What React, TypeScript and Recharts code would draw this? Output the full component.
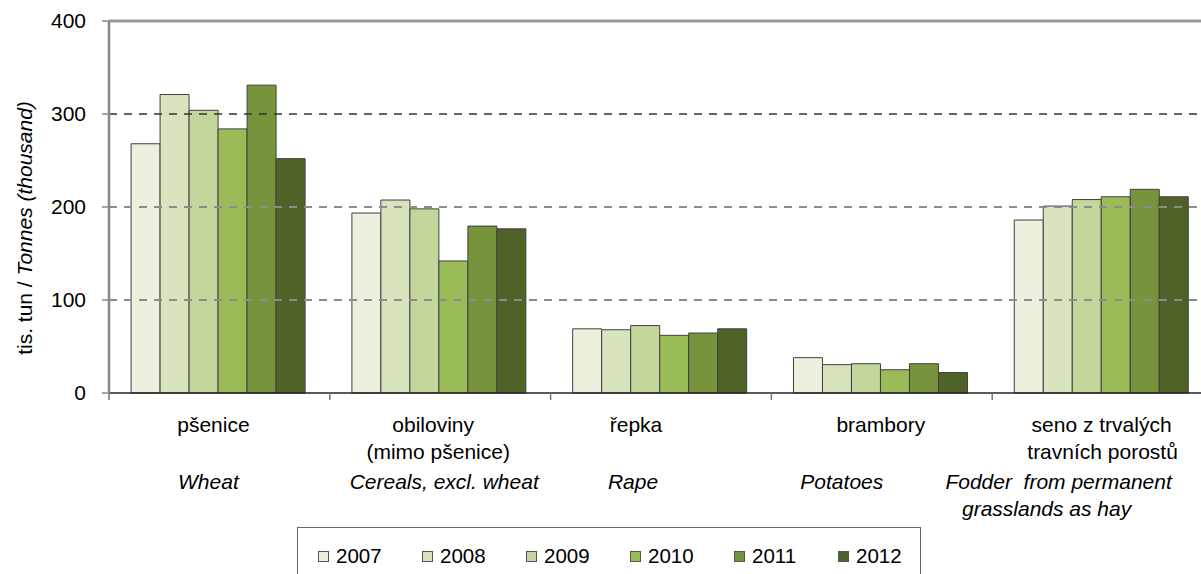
import React from 'react';
import { BarChart, Bar, XAxis, YAxis, ReferenceLine, Legend } from 'recharts';

// ---- data ----
const categories = ['wheat', 'cereals', 'rape', 'potatoes', 'fodder'];
const czLabels = [
  ['pšenice'],
  ['obiloviny', '(mimo pšenice)'],
  ['řepka'],
  ['brambory'],
  ['seno z trvalých', 'travních porostů'],
];
const enLabels = [
  ['Wheat'],
  ['Cereals, excl. wheat'],
  ['Rape'],
  ['Potatoes'],
  ['Fodder  from permanent', 'grasslands as hay'],
];
const years = ['2007', '2008', '2009', '2010', '2011', '2012'];
const v2007 = [268, 193.5, 69, 38, 186];
const v2008 = [321, 207.5, 68, 30.5, 201];
const v2009 = [304, 198, 72.5, 31.5, 208];
const v2010 = [284, 142, 62, 25, 211];
const v2011 = [331, 179.5, 64.5, 31.5, 219];
const v2012 = [252, 176.5, 69, 22, 211];
const seriesValues = [v2007, v2008, v2009, v2010, v2011, v2012];
const yTicks = [0, 100, 200, 300, 400];

// ---- style ----
const colors = ['#EBF1DE', '#D7E4BD', '#C3D69B', '#9BBB59', '#77933C', '#4F6228'];
const FONT = '"Liberation Sans", Arial, sans-serif';
const CHART_W = 1216;
const CHART_H = 574;
const Y_AXIS_W = 109;
const MARGIN = { top: 21, right: 3, bottom: 0, left: 0 };
const PLOT_W = CHART_W - Y_AXIS_W - MARGIN.left - MARGIN.right;
const BAND = PLOT_W / categories.length;
const czDx = [[-6], [-7, -2], [-25], [-1], [-1, 0]];
const enDx = [[-11], [4], [-28], [-40], [-44, -56]];
const czBaselines = [432, 459];
const enBaselines = [489, 516];

const data = categories.map((c, i) => {
  const row: Record<string, any> = { name: c };
  years.forEach((y, j) => {
    row['y' + y] = seriesValues[j][i];
  });
  return row;
});

function CatTick(props: any) {
  const { x, y, index } = props;
  const i = index;
  return (
    <g>
      <line x1={x - BAND / 2} x2={x - BAND / 2} y1={y} y2={y + 7} stroke="#777" strokeWidth={1.5} />
      {i === categories.length - 1 && (
        <line x1={x + BAND / 2} x2={x + BAND / 2} y1={y} y2={y + 7} stroke="#777" strokeWidth={1.5} />
      )}
      {czLabels[i].map((t, k) => (
        <text
          key={'cz' + k}
          x={x + czDx[i][k]}
          y={czBaselines[k]}
          textAnchor="middle"
          fontFamily={FONT}
          fontSize={21}
          fill="#000"
          style={{ whiteSpace: 'pre' }}
        >
          {t}
        </text>
      ))}
      {enLabels[i].map((t, k) => (
        <text
          key={'en' + k}
          x={x + enDx[i][k]}
          y={enBaselines[k]}
          textAnchor="middle"
          fontFamily={FONT}
          fontSize={21}
          fontStyle="italic"
          fill="#000"
          style={{ whiteSpace: 'pre' }}
        >
          {t}
        </text>
      ))}
    </g>
  );
}

function YLabel() {
  const cx = 24;
  const cy = 228;
  return (
    <text
      x={cx}
      y={cy}
      transform={`rotate(-90, ${cx}, ${cy})`}
      textAnchor="middle"
      dominantBaseline="central"
      fontFamily={FONT}
      fontSize={21}
      fill="#000"
    >
      <tspan>tis. tun / </tspan>
      <tspan fontStyle="italic">Tonnes (thousand)</tspan>
    </text>
  );
}

function LegendBox(props: any) {
  const payload = props.payload || [];
  return (
    <div
      style={{
        width: 624,
        height: 47,
        boxSizing: 'border-box',
        borderTop: '1px solid #666',
        borderLeft: '1px solid #666',
        borderRight: '1px solid #666',
        position: 'relative',
        fontFamily: FONT,
        fontSize: 20.5,
        color: '#000',
      }}
    >
      {payload.map((p: any, i: number) => (
        <div
          key={p.value}
          style={{ position: 'absolute', left: 20 + i * 104, top: 17, display: 'flex', alignItems: 'center', height: 22 }}
        >
          <span
            style={{
              display: 'inline-block',
              width: 9,
              height: 9,
              border: '1px solid #555',
              background: p.color,
            }}
          />
          <span style={{ marginLeft: 7, lineHeight: '22px' }}>{p.value}</span>
        </div>
      ))}
    </div>
  );
}

export default function App() {
  return (
    <div style={{ position: 'absolute', left: 0, top: 0, width: 1201, height: 574, overflow: 'hidden', background: '#fff' }}>
      <BarChart
        width={CHART_W}
        height={CHART_H}
        data={data}
        margin={MARGIN}
        barCategoryGap="10%"
        barGap={0}
      >
        <ReferenceLine y={100} stroke="#8c8c8c" strokeWidth={2} strokeDasharray="8 7" />
        <ReferenceLine y={200} stroke="#8c8c8c" strokeWidth={2} strokeDasharray="8 7" />
        <ReferenceLine y={300} stroke="#333" strokeWidth={1.5} strokeDasharray="8 7" />
        <ReferenceLine y={400} stroke="#999" strokeWidth={3} />
        <XAxis
          dataKey="name"
          interval={0}
          height={CHART_H - 393 - MARGIN.bottom}
          tickLine={false}
          tickSize={0}
          tickMargin={0}
          axisLine={{ stroke: '#222', strokeWidth: 1.5 }}
          tick={<CatTick />}
        />
        <YAxis
          domain={[0, 400]}
          ticks={yTicks}
          width={Y_AXIS_W}
          tickSize={7}
          tickMargin={16}
          tickLine={{ stroke: '#888', strokeWidth: 1.5 }}
          axisLine={{ stroke: '#888', strokeWidth: 2.5 }}
          tick={{ fontFamily: FONT, fontSize: 21, fill: '#000' }}
          label={<YLabel />}
        />
        <Legend
          layout="horizontal"
          verticalAlign="middle"
          align="center"
          wrapperStyle={{ top: 527, left: 297, width: 624, height: 47 }}
          content={<LegendBox />}
        />
        {years.map((y, j) => (
          <Bar
            key={y}
            dataKey={'y' + y}
            name={y}
            fill={colors[j]}
            stroke="#404040"
            strokeWidth={1}
            isAnimationActive={false}
          />
        ))}
      </BarChart>
    </div>
  );
}
